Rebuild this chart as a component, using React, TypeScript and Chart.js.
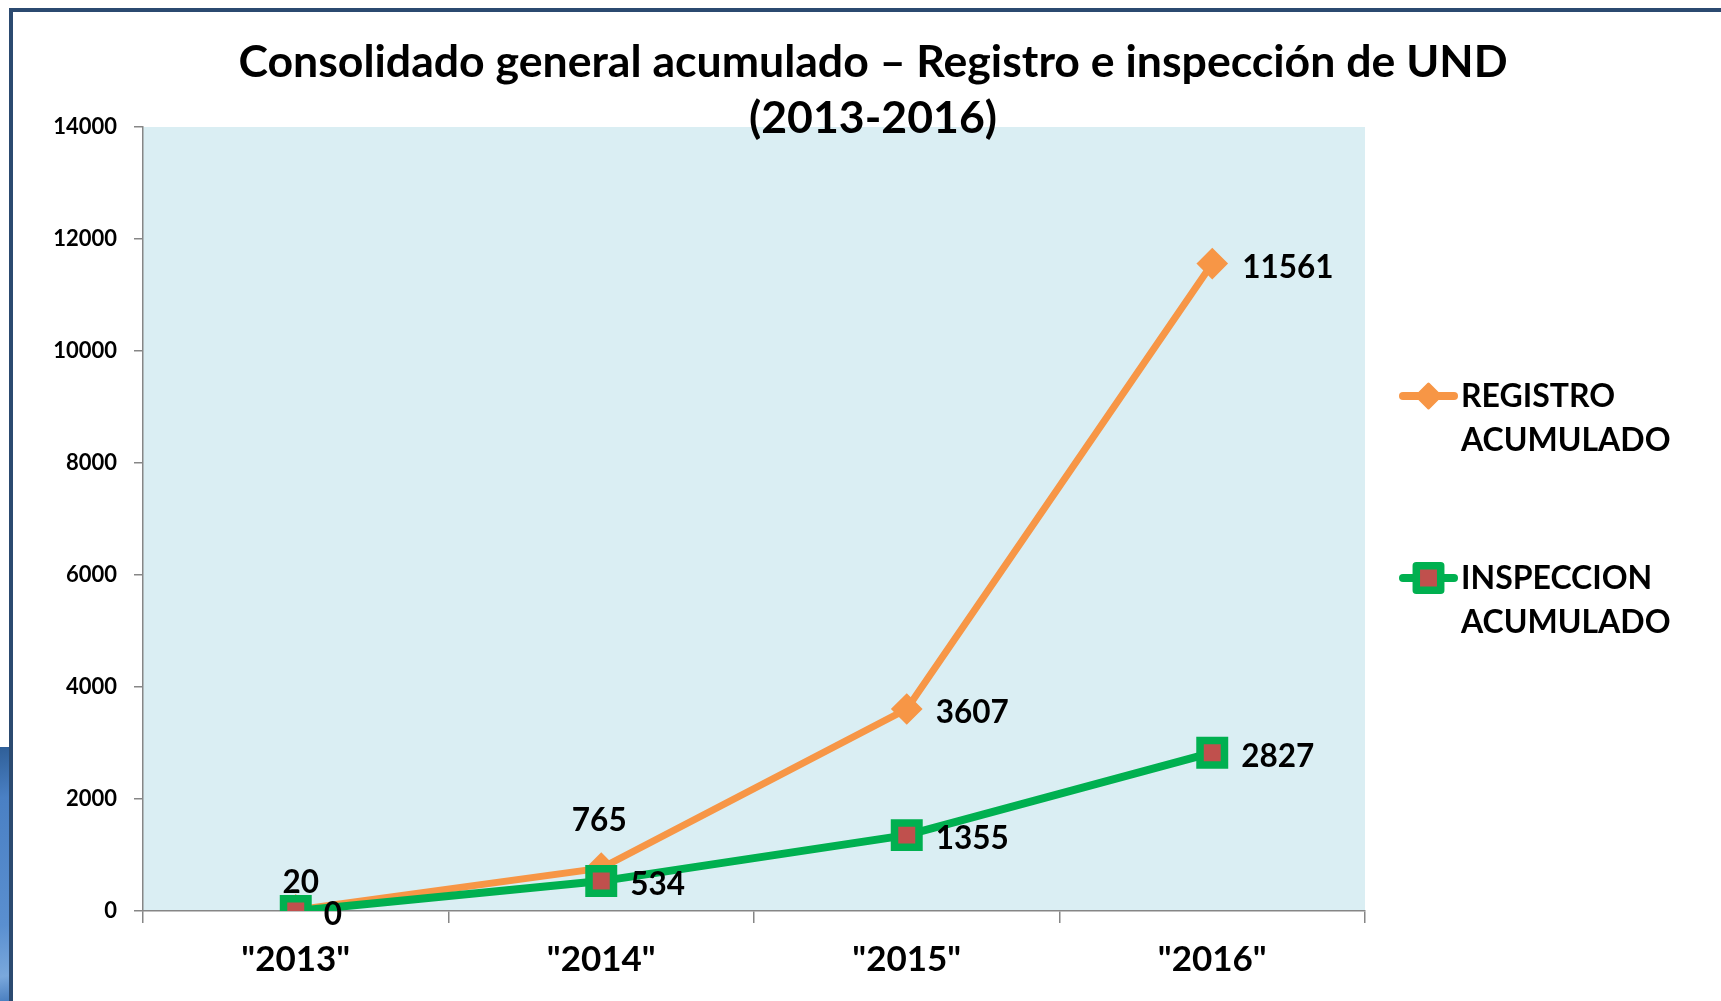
import React, { useEffect, useRef } from "react";
import { Chart, registerables } from "chart.js";

Chart.register(...registerables);

// ---- data ----
const categories = ['"2013"', '"2014"', '"2015"', '"2016"'];
const registroValues = [20, 765, 3607, 11561];
const inspeccionValues = [0, 534, 1355, 2827];
const seriesNames = ["REGISTRO ACUMULADO", "INSPECCION ACUMULADO"];
const titleLines = ["Consolidado general acumulado – Registro e inspección de UND", "(2013-2016)"];
const yMin = 0;
const yMax = 14000;
const yStep = 2000;

// ---- style ----
const FONT = "Lato, 'Open Sans', sans-serif";
const ORANGE = "#F79646";
const GREEN = "#00B050";
const RED = "#C0504D";
const AXIS = "#868686";
const PLOT_BG = "#DAEEF3";
// label placement per point: [dx, dy] relative to the point (dy = visual center of digits)
const registroLabelOffsets = [[5, -28], [-2, -48], [29, 3], [30, 3]];
const inspeccionLabelOffsets = [[28, 3], [29, 3], [29, 3], [29, 3]];

const plotBgPlugin = {
  id: "plotBg",
  beforeDraw(chart: any) {
    const { ctx, chartArea } = chart;
    ctx.save();
    ctx.fillStyle = PLOT_BG;
    ctx.fillRect(chartArea.left, chartArea.top, chartArea.right - chartArea.left, chartArea.bottom - chartArea.top);
    ctx.restore();
  },
};

const dataLabelPlugin = {
  id: "dataLabels",
  afterDatasetsDraw(chart: any) {
    const { ctx } = chart;
    const offsets = [registroLabelOffsets, inspeccionLabelOffsets];
    ctx.save();
    ctx.font = `bold 31.5px ${FONT}`;
    ctx.fillStyle = "#000";
    ctx.textBaseline = "alphabetic";
    chart.data.datasets.forEach((ds: any, di: number) => {
      const meta = chart.getDatasetMeta(di);
      meta.data.forEach((pt: any, i: number) => {
        const [dx, dy] = offsets[di][i];
        const txt = String(ds.data[i]);
        ctx.textAlign = dx < 10 ? "center" : "left";
        ctx.fillText(txt, pt.x + dx, pt.y + dy + 11);
      });
    });
    ctx.restore();
  },
};

function drawMarker(ctx: CanvasRenderingContext2D, style: string, x: number, y: number) {
  ctx.save();
  if (style === "rectRot") {
    ctx.fillStyle = ORANGE;
    ctx.strokeStyle = ORANGE;
    ctx.lineWidth = 3;
    ctx.lineJoin = "round";
    const r = 12;
    ctx.beginPath();
    ctx.moveTo(x - r, y);
    ctx.lineTo(x, y - r);
    ctx.lineTo(x + r, y);
    ctx.lineTo(x, y + r);
    ctx.closePath();
    ctx.fill();
    ctx.stroke();
  } else {
    ctx.fillStyle = RED;
    ctx.strokeStyle = GREEN;
    ctx.lineWidth = 7.5;
    ctx.lineJoin = "round";
    const h = 12.2;
    ctx.beginPath();
    ctx.rect(x - h, y - h, 2 * h, 2 * h);
    ctx.fill();
    ctx.stroke();
  }
  ctx.restore();
}

const titleLegendPlugin = {
  id: "titleLegend",
  afterDraw(chart: any) {
    const { ctx } = chart;
    ctx.save();
    // title
    ctx.fillStyle = "#000";
    ctx.font = `bold 44.6px ${FONT}`;
    ctx.textAlign = "center";
    ctx.textBaseline = "alphabetic";
    ctx.fillText(titleLines[0], 873, 77);
    ctx.fillText(titleLines[1], 873, 133);
    // legend
    const itemY = [396, 578];
    chart.data.datasets.forEach((ds: any, di: number) => {
      const y = itemY[di];
      ctx.strokeStyle = ds.borderColor;
      ctx.lineWidth = 8;
      ctx.lineCap = "round";
      ctx.beginPath();
      ctx.moveTo(1403, y);
      ctx.lineTo(1454, y);
      ctx.stroke();
      drawMarker(ctx, ds.pointStyle, 1428.5, y);
      ctx.fillStyle = "#000";
      ctx.font = `bold 32px ${FONT}`;
      ctx.textAlign = "left";
      const words = String(ds.label).split(" ");
      words.forEach((w: string, li: number) => {
        ctx.fillText(w, 1461, y + 11 + li * 44);
      });
    });
    ctx.restore();
  },
};

export default function App() {
  const canvasRef = useRef<HTMLCanvasElement | null>(null);

  useEffect(() => {
    if (!canvasRef.current) return;
    const chart = new Chart(canvasRef.current, {
      type: "line",
      data: {
        labels: categories,
        datasets: [
          {
            label: seriesNames[0],
            data: registroValues,
            borderColor: ORANGE,
            backgroundColor: ORANGE,
            borderWidth: 7,
            pointStyle: "rectRot",
            pointRadius: 13,
            pointHoverRadius: 13,
            pointBackgroundColor: ORANGE,
            pointBorderColor: ORANGE,
            pointBorderWidth: 4,
            tension: 0,
            order: 2,
          },
          {
            label: seriesNames[1],
            data: inspeccionValues,
            borderColor: GREEN,
            backgroundColor: GREEN,
            borderWidth: 8,
            pointStyle: "rect",
            pointRadius: 17.3,
            pointHoverRadius: 17.3,
            pointBackgroundColor: RED,
            pointBorderColor: GREEN,
            pointBorderWidth: 7.5,
            tension: 0,
            order: 1,
          },
        ],
      },
      options: {
        responsive: false,
        animation: false,
        events: [],
        layout: { padding: { left: 0, top: 127, right: 356, bottom: 0 } },
        plugins: {
          legend: { display: false },
          title: { display: false },
          tooltip: { enabled: false },
        },
        scales: {
          x: {
            offset: true,
            afterFit(scale: any) {
              scale.height = 90;
            },
            grid: {
              offset: true,
              drawOnChartArea: false,
              drawTicks: true,
              tickLength: 12,
              color: AXIS,
              lineWidth: 1.5,
            },
            border: { display: true, color: AXIS, width: 1.5 },
            ticks: {
              color: "#000",
              font: { family: FONT, size: 35, weight: "bold" },
              padding: 16,
              maxRotation: 0,
            },
          },
          y: {
            min: yMin,
            max: yMax,
            afterFit(scale: any) {
              scale.width = 143;
            },
            grid: {
              drawOnChartArea: false,
              drawTicks: true,
              tickLength: 9,
              color: AXIS,
              lineWidth: 1.5,
            },
            border: { display: true, color: AXIS, width: 1.5 },
            ticks: {
              stepSize: yStep,
              color: "#000",
              font: { family: FONT, size: 22, weight: "bold" },
              padding: 17,
              callback: (v: any) => String(v),
            },
          },
        },
      },
      plugins: [plotBgPlugin, dataLabelPlugin, titleLegendPlugin],
    } as any);
    return () => chart.destroy();
  }, []);

  return (
    <div>
      <div
        style={{
          position: "fixed",
          left: 0,
          top: 747,
          width: 9,
          height: 254,
          background: "linear-gradient(170deg, #2f5f98 0%, #4a80c4 20%, #5a8fd0 70%, #7aa8dc 90%, #4a7fc0 100%)",
        }}
      />
      <div
        style={{
          position: "fixed",
          left: 9,
          top: 8,
          width: 1712,
          height: 993,
          borderTop: "4px solid #2B4A70",
          borderLeft: "4px solid #2B4A70",
          boxSizing: "border-box",
        }}
      />
      <canvas
        ref={canvasRef}
        width={1721}
        height={1001}
        style={{ position: "fixed", left: 0, top: 0, width: 1721, height: 1001 }}
      />
    </div>
  );
}
